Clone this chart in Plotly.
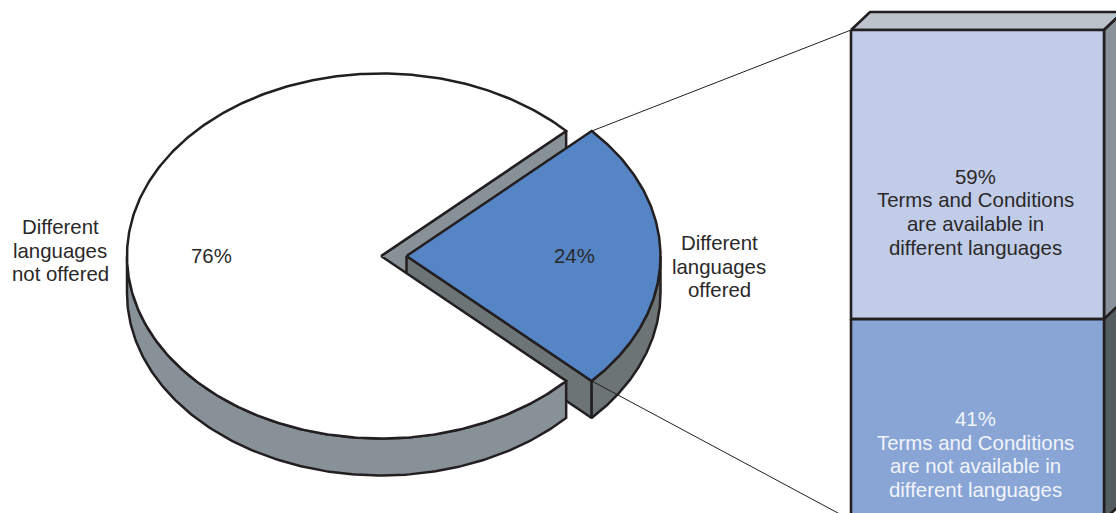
import numpy as np
import plotly.graph_objects as go

# Survey shares
pie_labels = [["Different", "languages", "not offered"], ["Different", "languages", "offered"]]
pie_shares = [76, 24]
bar_labels = [
    ["Terms and Conditions", "are available in", "different languages"],
    ["Terms and Conditions", "are not available in", "different languages"],
]
bar_shares = [59, 41]

# Drawing geometry, in canvas units
W, H = 1116, 513
CX, CY = 381.0, 256.0
RX, RY = 254.0, 182.5
DEPTH = 37.0
EXPLODE = 25.5
BAR_X0, BAR_X1 = 851.0, 1104.0
BAR_TOP = 30.0
BAR_UNIT = 4.9          # canvas units per percentage point
BAR_DX, BAR_DY = 19.0, 18.0

INK = "#231f20"
TEXT_INK = "#2b2829"
SLICE_BLUE = "#5585c5"
WALL_GREY = "#889098"
WALL_DARK = "#6c7476"
BAR_LIGHT = "#c1cde8"
BAR_MID = "#88a5d5"
BAR_TOPFACE = "#bcc3cb"
SIDE_LIGHT = "#8a9299"
SIDE_DARK = "#535c5e"
FONT = "Liberation Sans, Arial, sans-serif"
FONT_SIZE = 20.4
LINE_STEP = 23.7

half = np.deg2rad(pie_shares[1] * 3.6 / 2)


def arc(cx, cy, a0, a1, n=160):
    t = np.linspace(a0, a1, n)
    return cx + RX * np.cos(t), cy + RY * np.sin(t)


fig = go.Figure()


def poly(x, y, fill, width=2.5, color=INK):
    x, y = np.asarray(x, float), np.asarray(y, float)
    fig.add_trace(go.Scatter(
        x=np.r_[x, x[0]], y=np.r_[y, y[0]], mode="lines", fill="toself",
        fillcolor=fill, line=dict(color=color, width=width),
        hoverinfo="skip", showlegend=False,
    ))


def stroke(x, y, width=1.0):
    fig.add_trace(go.Scatter(
        x=x, y=y, mode="lines", line=dict(color=INK, width=width),
        hoverinfo="skip", showlegend=False,
    ))


tip_dx, tip_dy = RX * np.cos(half), RY * np.sin(half)

# Cut face of the large slice, seen behind the pulled-out wedge
poly([CX, CX + tip_dx, CX + tip_dx, CX],
     [CY, CY - tip_dy, CY - tip_dy + DEPTH, CY + DEPTH], WALL_GREY)

# Pulled-out wedge: straight wall, rim wall, then top face
bx = CX + EXPLODE
poly([bx, bx + tip_dx, bx + tip_dx, bx],
     [CY, CY + tip_dy, CY + tip_dy + DEPTH, CY + DEPTH], WALL_DARK)
ax, ay = arc(bx, CY, 0, half)
poly(np.r_[ax, ax[::-1]], np.r_[ay, ay[::-1] + DEPTH], WALL_DARK)
ax, ay = arc(bx, CY, -half, half)
poly(np.r_[bx, ax], np.r_[CY, ay], SLICE_BLUE)

# Large slice: outer wall along the front, then top face
ax, ay = arc(CX, CY, half, np.pi)
poly(np.r_[ax, ax[::-1]], np.r_[ay, ay[::-1] + DEPTH], WALL_GREY)
ax, ay = arc(CX, CY, half, 2 * np.pi - half, 400)
poly(np.r_[CX, ax], np.r_[CY, ay], "#ffffff")

# Breakdown column, stacked downward from the shares
y_split = BAR_TOP + bar_shares[0] * BAR_UNIT
y_end = y_split + bar_shares[1] * BAR_UNIT

# Leader lines from the wedge corners to the column corners
stroke([bx + tip_dx, BAR_X0], [CY - tip_dy, BAR_TOP])
stroke([bx + tip_dx, BAR_X0], [CY + tip_dy, y_end])

poly([BAR_X0, BAR_X0 + BAR_DX, BAR_X1 + BAR_DX, BAR_X1],
     [BAR_TOP, BAR_TOP - BAR_DY, BAR_TOP - BAR_DY, BAR_TOP], BAR_TOPFACE, 2.6)
poly([BAR_X1, BAR_X1 + BAR_DX, BAR_X1 + BAR_DX, BAR_X1],
     [BAR_TOP, BAR_TOP - BAR_DY, y_split - BAR_DY, y_split], SIDE_LIGHT, 2.6)
poly([BAR_X1, BAR_X1 + BAR_DX, BAR_X1 + BAR_DX, BAR_X1],
     [y_split, y_split - BAR_DY, y_end - BAR_DY, y_end], SIDE_DARK, 2.6)
poly([BAR_X0, BAR_X1, BAR_X1, BAR_X0],
     [BAR_TOP, BAR_TOP, y_split, y_split], BAR_LIGHT, 2.6)
poly([BAR_X0, BAR_X1, BAR_X1, BAR_X0],
     [y_split, y_split, y_end, y_end], BAR_MID, 2.6)


def label(x, first_y, lines, color=TEXT_INK):
    # One annotation per line keeps the leading tighter than Plotly's default
    for i, text in enumerate(lines):
        fig.add_annotation(x=x, y=first_y + i * LINE_STEP, text=text, showarrow=False,
                           xanchor="center", yanchor="middle",
                           font=dict(family=FONT, size=FONT_SIZE, color=color))


label(60, 227, pie_labels[0])
label(719, 243, pie_labels[1])
label(211, 256, [f"{pie_shares[0]}%"])
label(574, 256, [f"{pie_shares[1]}%"])
label(975, 176.5, [f"{bar_shares[0]}%"] + bar_labels[0])
label(975, 419, [f"{bar_shares[1]}%"] + bar_labels[1], "#f2f4fa")

fig.update_layout(
    width=W, height=H, margin=dict(l=0, r=0, t=0, b=0),
    paper_bgcolor="#ffffff", plot_bgcolor="#ffffff", showlegend=False,
    xaxis=dict(range=[0, W], visible=False, fixedrange=True),
    yaxis=dict(range=[H, 0], visible=False, fixedrange=True),
)
fig.write_html("out.html", config={"displayModeBar": False})
